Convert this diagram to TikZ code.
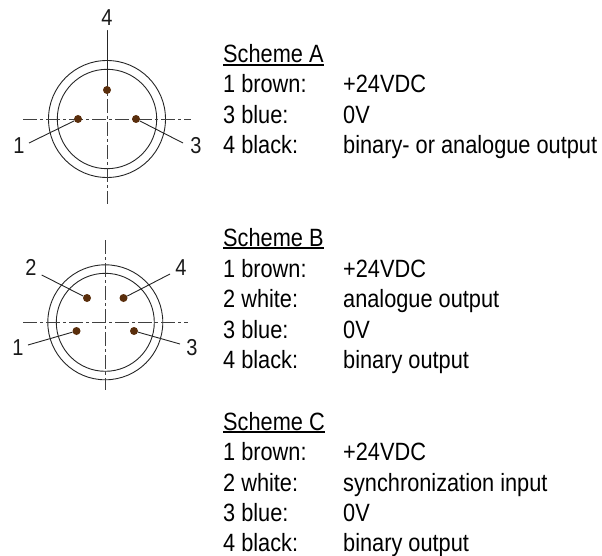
\documentclass[tikz,border=0pt]{standalone}
\usepackage{fontspec}
\setmainfont[FakeStretch=0.87]{Liberation Sans}
\definecolor{pinc}{HTML}{5A2E0C}
\tikzset{
  x=1pt,y=-1pt,
  txt/.style={anchor=base west,inner sep=0pt,font=\fontsize{25}{28}\selectfont,text=black},
  num/.style={inner sep=0pt,font=\fontsize{23}{25}\selectfont,text=black!90},
  ring/.style={draw=black!85,line width=0.9pt},
  axis/.style={draw=black!75,line width=0.9pt,dash pattern=on 14pt off 3pt on 3pt off 3pt},
  lead/.style={draw=black!85,line width=0.9pt},
  pin/.style={circle,fill=pinc,inner sep=0pt,minimum size=8pt}
}
\newcommand{\uline}[1]{\setbox0=\hbox{#1}\rlap{\rule[-3.2pt]{\wd0}{1.8pt}}\box0}
\newcommand{\txtrow}[3]{\node[txt] at (223,#1) {#2}; \node[txt] at (343,#1) {#3};}
\begin{document}
\begin{tikzpicture}
\useasboundingbox (0,0) rectangle (602,556);
% Connector A
\coordinate (ca) at (107,119);
\draw[ring] (ca) circle (58.5);
\draw[ring] (ca) circle (49.7);
\coordinate (al) at (23,119); \coordinate (ar) at (191,119);
\coordinate (at) at (107,30); \coordinate (ab) at (107,204);
\draw[axis] (al) -- (ar);
\draw[axis] (at) -- (ab);
\node[pin] (a4) at (107,90) {};
\node[pin] (a1) at (78,119) {};
\node[pin] (a3) at (136,119) {};
\node[num] (la4) at (107,18) {4};
\node[num] (la1) at (19,146) {1};
\node[num] (la3) at (196,145.5) {3};
\coordinate (ta4) at (107,31); \coordinate (ta1) at (29,143); \coordinate (ta3) at (183,143);
\draw[lead] (ta4) -- (a4);
\draw[lead] (ta1) -- (a1);
\draw[lead] (ta3) -- (a3);
% Connector B
\coordinate (cb) at (105.3,322.3);
\draw[ring] (cb) circle (57.5);
\draw[ring] (cb) circle (49);
\coordinate (bl) at (23,322.3); \coordinate (br) at (188,322.3);
\coordinate (bt) at (105.3,240); \coordinate (bb) at (105.3,390);
\draw[axis] (bl) -- (br);
\draw[axis] (bt) -- (bb);
\node[pin] (b2) at (87,298) {};
\node[pin] (b4) at (123.5,298) {};
\node[pin] (b1) at (76.5,331) {};
\node[pin] (b3) at (134,331) {};
\node[num] (lb2) at (31,267) {2};
\node[num] (lb4) at (181,268) {4};
\node[num] (lb1) at (18,348) {1};
\node[num] (lb3) at (192,348) {3};
\coordinate (tb2) at (41.7,275); \coordinate (tb4) at (170,274);
\coordinate (tb1) at (28,345); \coordinate (tb3) at (180,344);
\draw[lead] (tb2) -- (b2);
\draw[lead] (tb4) -- (b4);
\draw[lead] (tb1) -- (b1);
\draw[lead] (tb3) -- (b3);
% Scheme A
\node[txt] at (223,63) {\uline{Scheme A}};
\txtrow{93}{1 brown:}{+24VDC}
\txtrow{124}{3 blue:}{0V}
\txtrow{154}{4 black:}{binary- or analogue output}
% Scheme B
\node[txt] at (223,246) {\uline{Scheme B}};
\txtrow{277}{1 brown:}{+24VDC}
\txtrow{307}{2 white:}{analogue output}
\txtrow{338}{3 blue:}{0V}
\txtrow{368}{4 black:}{binary output}
% Scheme C
\node[txt] at (223,430) {\uline{Scheme C}};
\txtrow{460}{1 brown:}{+24VDC}
\txtrow{491}{2 white:}{synchronization input}
\txtrow{521}{3 blue:}{0V}
\txtrow{551}{4 black:}{binary output}
\end{tikzpicture}
\end{document}
